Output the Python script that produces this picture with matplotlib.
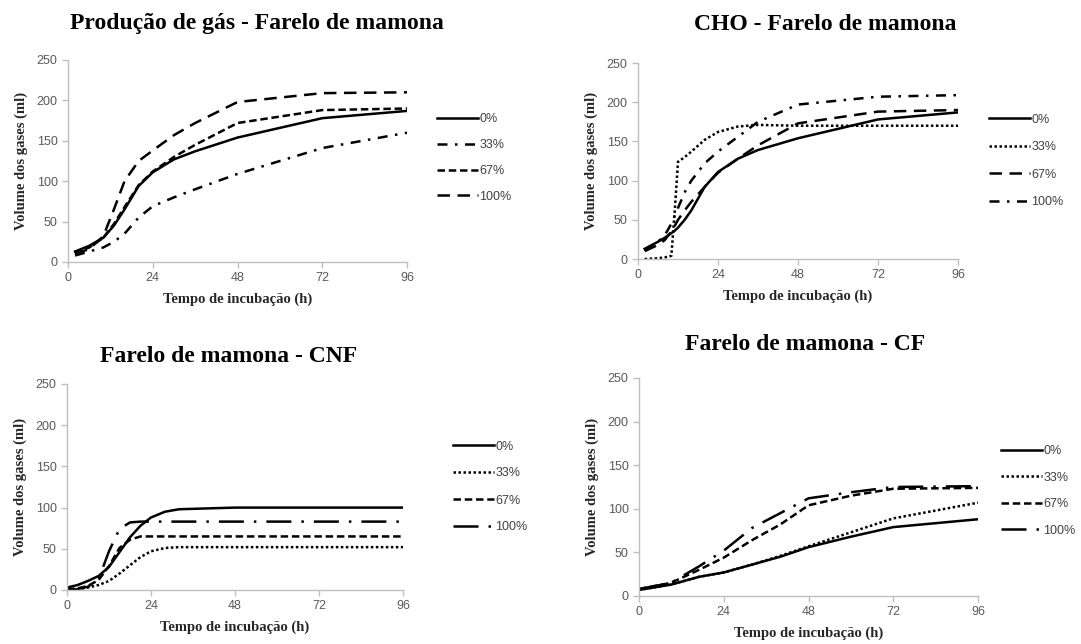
import matplotlib
matplotlib.use("Agg")
import matplotlib.pyplot as plt

# ---- data ----
series_labels = ["0%", "33%", "67%", "100%"]

# Produção de gás - Farelo de mamona
t_gas = [2, 6, 10, 13, 16, 20, 24, 30, 36, 48, 72, 96]
gas_0 = [13, 20, 30, 45, 65, 94, 111, 127, 137, 154, 178, 187]
gas_33 = [8, 13, 18, 25, 35, 55, 69, 80, 90, 109, 141, 160]
gas_67 = [11, 18, 30, 47, 68, 95, 112, 130, 145, 172, 188, 190]
gas_100 = [10, 16, 32, 65, 100, 125, 138, 157, 172, 198, 209, 210]

# CHO - Farelo de mamona
t_cho = [2, 6, 8, 10, 11, 12, 14, 16, 20, 24, 30, 36, 48, 72, 96]
cho_0 = [13, 22, 27, 33, 36, 40, 50, 62, 92, 111, 128, 139, 154, 178, 187]
cho_33 = [0, 1, 2, 4, 60, 124, 130, 137, 152, 162, 169, 171, 170, 170, 170]
cho_67 = [10, 18, 24, 35, 42, 50, 62, 73, 92, 110, 128, 145, 173, 188, 190]
cho_100 = [11, 22, 30, 45, 55, 65, 85, 100, 122, 137, 156, 175, 197, 207, 209]

# Farelo de mamona - CNF
t_cnf = [0, 3, 6, 9, 12, 15, 18, 21, 24, 28, 32, 40, 48, 72, 96]
cnf_0 = [3, 6, 11, 17, 28, 46, 64, 78, 88, 95, 98, 99, 100, 100, 100]
cnf_33 = [0, 1, 3, 6, 11, 20, 30, 40, 47, 51, 52, 52, 52, 52, 52]
cnf_67 = [1, 2, 5, 12, 29, 51, 61, 65, 65, 65, 65, 65, 65, 65, 65]
cnf_100 = [0, 1, 4, 13, 47, 74, 82, 83, 83, 83, 83, 83, 83, 83, 83]

# Farelo de mamona - CF
t_cf = [0, 9, 17, 24, 32, 40, 48, 60, 72, 96]
cf_0 = [7, 13, 22, 27, 36, 45, 56, 68, 79, 88]
cf_33 = [7, 13, 22, 27, 36, 46, 57, 73, 89, 107]
cf_67 = [8, 15, 30, 44, 64, 82, 104, 115, 123, 124]
cf_100 = [8, 15, 34, 52, 78, 95, 112, 119, 125, 126]

x_ticks = [0, 24, 48, 72, 96]
y_ticks = [0, 50, 100, 150, 200, 250]

# line styles (Excel-like)
SOLID = "-"
DOT = (0, (1, 1))
SHORT_DASH = (0, (3, 1.5))
LONG_DASH = (0, (5, 3))
DASH_DOT = (0, (4, 3, 1, 3))
LONG_DASH_DOT = (0, (10, 4, 1, 4))

SERIF = "Liberation Serif"
SANS = "Liberation Sans"
GRAY = "#595959"
AXIS_GRAY = "#bfbfbf"

W, H = 1081, 644
fig = plt.figure(figsize=(W / 100, H / 100), dpi=100)


def px_box(left, top, right, bottom):
    return [left / W, 1 - bottom / H, (right - left) / W, (bottom - top) / H]


def draw_panel(box, t, ys, styles, title, title_xy, leg_xy, leg_spacing):
    ax = fig.add_axes(px_box(*box))
    for y, ls, lab in zip(ys, styles, series_labels):
        ax.plot(t, y, color="black", lw=1.8, linestyle=ls, label=lab)
    ax.set_xlim(0, 96)
    ax.set_ylim(0, 250)
    ax.set_xticks(x_ticks)
    ax.set_yticks(y_ticks)
    for s in ["top", "right"]:
        ax.spines[s].set_visible(False)
    for s in ["left", "bottom"]:
        ax.spines[s].set_color(AXIS_GRAY)
        ax.spines[s].set_linewidth(1.0)
    ax.tick_params(colors=AXIS_GRAY, labelcolor=GRAY, length=4, width=1.0)
    for lbl in ax.get_xticklabels() + ax.get_yticklabels():
        lbl.set_fontfamily(SANS)
        lbl.set_fontsize(9)
    ax.set_xlabel("Tempo de incubação (h)", fontfamily=SERIF, fontweight="bold",
                  fontsize=10.5, color="#262626", labelpad=6)
    ax.set_ylabel("Volume dos gases (ml)", fontfamily=SERIF, fontweight="bold",
                  fontsize=10.5, color="#262626", labelpad=6)
    fig.text(title_xy[0] / W, 1 - title_xy[1] / H, title, ha="center", va="center",
             fontfamily=SERIF, fontweight="bold", fontsize=17)
    leg = ax.legend(loc="center left", bbox_to_anchor=(leg_xy[0] / W, 1 - leg_xy[1] / H),
                    bbox_transform=fig.transFigure, frameon=False, handlelength=3.3,
                    handletextpad=0.1, borderpad=0, borderaxespad=0,
                    labelspacing=leg_spacing, prop={"family": SANS, "size": 9})
    for txt in leg.get_texts():
        txt.set_color("#404040")
    return ax


draw_panel((68, 60, 407, 262), t_gas, [gas_0, gas_33, gas_67, gas_100],
           [SOLID, DASH_DOT, SHORT_DASH, LONG_DASH],
           "Produção de gás - Farelo de mamona", (257, 24), (437, 158), 1.1)

draw_panel((638, 63, 958, 259), t_cho, [cho_0, cho_33, cho_67, cho_100],
           [SOLID, DOT, LONG_DASH, DASH_DOT],
           "CHO - Farelo de mamona", (825, 25), (989, 161), 1.25)

draw_panel((67, 384, 403, 590), t_cnf, [cnf_0, cnf_33, cnf_67, cnf_100],
           [SOLID, DOT, SHORT_DASH, LONG_DASH_DOT],
           "Farelo de mamona - CNF", (229, 357), (453, 487), 1.2)

draw_panel((639, 378, 978, 596), t_cf, [cf_0, cf_33, cf_67, cf_100],
           [SOLID, DOT, SHORT_DASH, LONG_DASH_DOT],
           "Farelo de mamona - CF", (805, 345), (1001, 491), 1.15)

fig.savefig("out.png", dpi=100)
